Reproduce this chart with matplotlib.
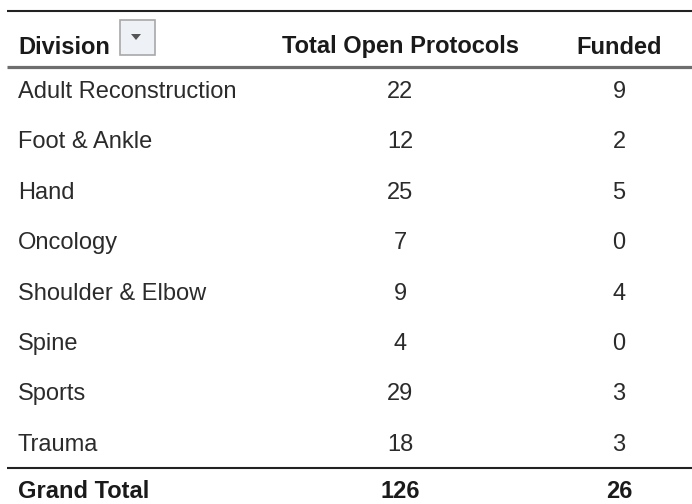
import matplotlib
matplotlib.use("Agg")
import matplotlib.pyplot as plt
from matplotlib.patches import Rectangle, Polygon

divisions = [
    "Adult Reconstruction",
    "Foot & Ankle",
    "Hand",
    "Oncology",
    "Shoulder & Elbow",
    "Spine",
    "Sports",
    "Trauma",
]
total_open = [22, 12, 25, 7, 9, 4, 29, 18]
funded = [9, 2, 5, 0, 4, 0, 3, 3]
headers = ["Division", "Total Open Protocols", "Funded"]

W, H = 692, 504
fig = plt.figure(figsize=(W / 100, H / 100), dpi=100)
ax = fig.add_axes([0, 0, 1, 1])
ax.set_xlim(0, W)
ax.set_ylim(H, 0)
ax.axis("off")

body = dict(family="Liberation Sans", fontsize=17, color="#2b2b2b", va="center")
bold = dict(family="Liberation Sans", fontsize=17, fontweight="bold",
            color="#1a1a1a", va="center")

x_left, x_total, x_funded = 18, 400, 619

# header
ax.plot([7, W], [11, 11], color="#222222", lw=1.5, solid_capstyle="butt")
ax.text(x_left, 47, headers[0], ha="left", **bold)
ax.text(x_total, 47, headers[1], ha="center", **bold)
ax.text(x_funded, 47, headers[2], ha="center", **bold)
ax.plot([7, W], [67, 67], color="#6e6e6e", lw=2.3, solid_capstyle="butt")

# dropdown button
ax.add_patch(Rectangle((120, 20), 35, 35, facecolor="#eef1f6", edgecolor="#a8a8a8", lw=1.2))
ax.add_patch(Polygon([(131, 34), (141, 34), (136, 40)], closed=True,
                     facecolor="#555555", edgecolor="none"))

# rows
row_y0, row_step = 92, 50.4
for i, (name, t, f) in enumerate(zip(divisions, total_open, funded)):
    y = row_y0 + i * row_step
    ax.text(x_left, y, name, ha="left", **body)
    ax.text(x_total, y, str(t), ha="center", **body)
    ax.text(x_funded, y, str(f), ha="center", **body)

# grand total
ax.plot([7, W], [468, 468], color="#222222", lw=1.5, solid_capstyle="butt")
ax.text(x_left, 491, "Grand Total", ha="left", **bold)
ax.text(x_total, 491, str(sum(total_open)), ha="center", **bold)
ax.text(x_funded, 491, str(sum(funded)), ha="center", **bold)

fig.savefig("out.png", dpi=100)
